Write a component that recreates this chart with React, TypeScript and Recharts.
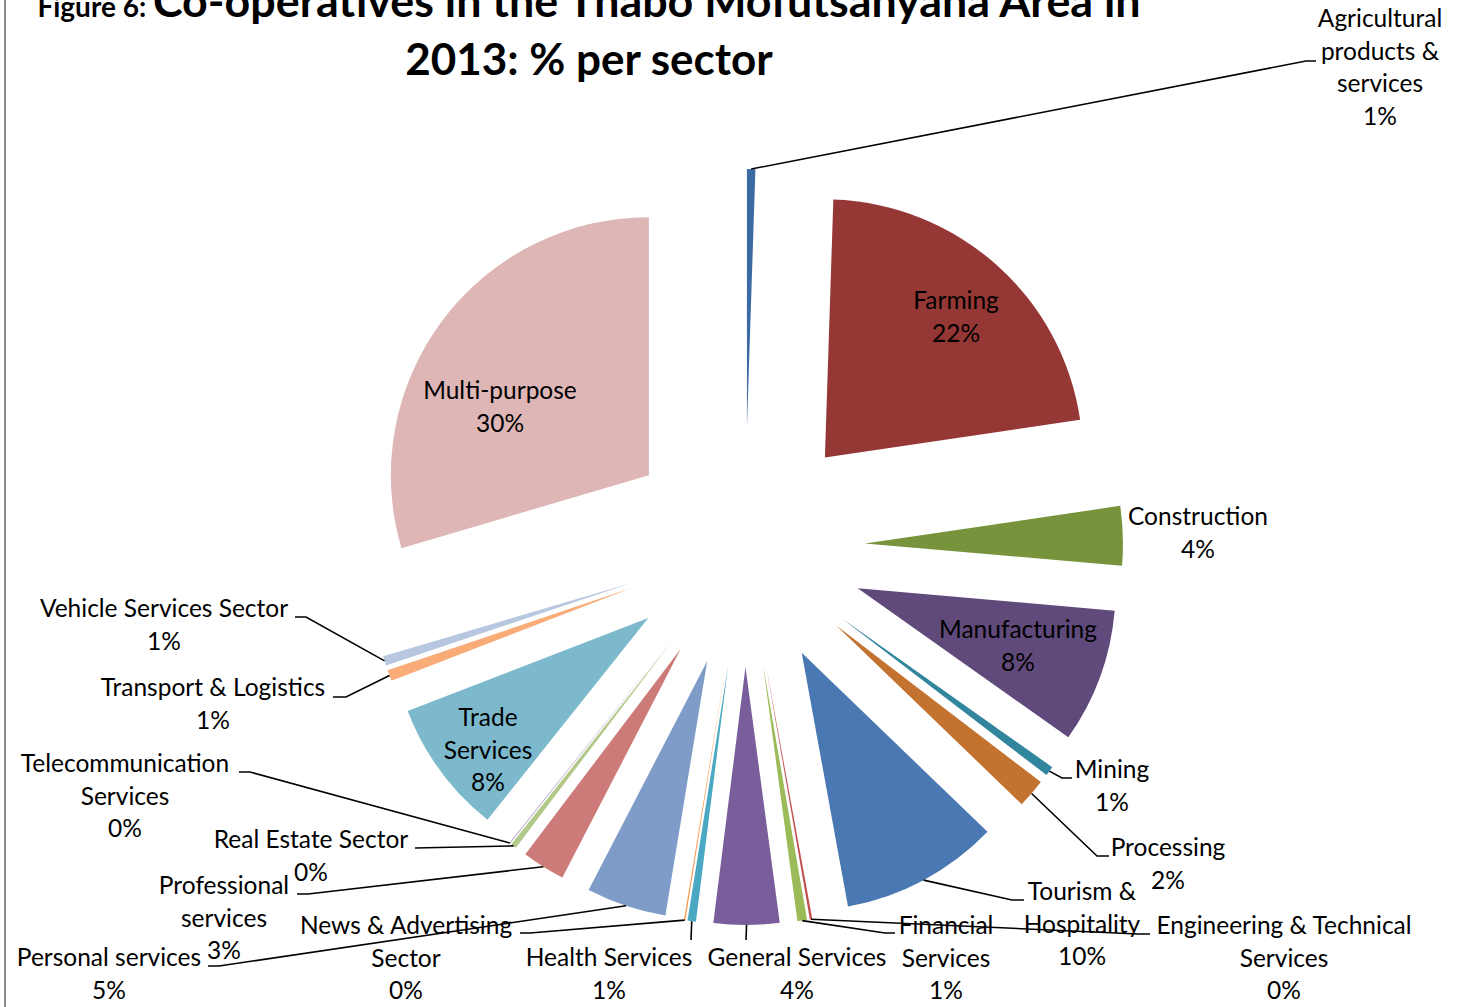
import React from 'react';
import { PieChart, Pie, Cell, Sector, Tooltip } from 'recharts';

// ---- data ----
const categories = [
  'Agricultural\nproducts &\nservices',
  'Farming',
  'Construction',
  'Manufacturing',
  'Mining',
  'Processing',
  'Tourism &\nHospitality',
  'Engineering & Technical\nServices',
  'Financial\nServices',
  'General Services',
  'Health Services',
  'News & Advertising\nSector',
  'Personal services',
  'Professional\nservices',
  'Real Estate Sector',
  'Telecommunication\nServices',
  'Trade\nServices',
  'Transport & Logistics',
  'Vehicle Services Sector',
  'Multi-purpose',
];

const shares = [
  0.52, 22.1, 3.7, 8.4, 0.6, 1.8, 9.9, 0.15, 0.6, 4.1,
  0.52, 0.08, 5.0, 2.7, 0.35, 0.05, 8.4, 0.7, 0.6, 29.5,
];

const colors = [
  '#3B6AA4', '#953735', '#77933C', '#604A7B', '#31859C', '#C3722F', '#4A78B2',
  '#C0504D', '#9BBB59', '#7A5E9B', '#4AA8C2', '#F79646', '#7F9CC9', '#CD7B79',
  '#B2C98A', '#A897C1', '#7CB9CD', '#F9AB78', '#B8C7E0', '#DDB6B5',
];

const titleSmall = 'Figure 6: ';
const titleLine1 = 'Co-operatives in the Thabo Mofutsanyana Area in';
const titleLine2 = '2013: % per sector';

// ---- layout ----
const W = 1459;
const H = 1007;
const CX = 745;
const CY = 547;
const R = 258;
const EXPLODE = 120;
const RAD = Math.PI / 180;
const FONT = 'Lato, "Open Sans", sans-serif';
const LABEL_SIZE = 24.5;
const LINE_H = 32.5;
const LABEL_DY = -2;

type Pt = [number, number];
const labelLayout: { x: number; y: number; leader?: Pt[] }[] = [
  { x: 1380, y: 19, leader: [[1306, 61], [1316, 61]] },
  { x: 956, y: 301 },
  { x: 1198, y: 517 },
  { x: 1018, y: 630 },
  { x: 1112, y: 770, leader: [[1062, 778], [1072, 778]] },
  { x: 1168, y: 848, leader: [[1097, 856], [1109, 856]] },
  { x: 1082, y: 892, leader: [[1012, 900], [1024, 900]] },
  { x: 1284, y: 926, leader: [[1138, 934], [1150, 934]] },
  { x: 946, y: 926, leader: [[885, 933], [895, 933]] },
  { x: 797, y: 958, leader: [[746, 940]] },
  { x: 609, y: 958, leader: [[691, 940]] },
  { x: 406, y: 926, leader: [[530, 933], [520, 933]] },
  { x: 109, y: 958, leader: [[219, 966], [208, 966]] },
  { x: 224, y: 886, leader: [[308, 894], [297, 894]] },
  { x: 311, y: 840, leader: [[415, 848]] },
  { x: 125, y: 764, leader: [[250, 772], [239, 772]] },
  { x: 488, y: 718 },
  { x: 213, y: 688, leader: [[346, 697], [333, 697]] },
  { x: 164, y: 609, leader: [[306, 617], [295, 617]] },
  { x: 500, y: 391 },
];

const data = categories.map((name, i) => ({ name, value: shares[i] }));

function ExplodedSector(props: any) {
  const { cx, cy, midAngle, innerRadius, outerRadius, startAngle, endAngle, fill } = props;
  const dx = EXPLODE * Math.cos(-midAngle * RAD);
  const dy = EXPLODE * Math.sin(-midAngle * RAD);
  return (
    <Sector
      cx={cx + dx}
      cy={cy + dy}
      innerRadius={innerRadius}
      outerRadius={outerRadius}
      startAngle={startAngle}
      endAngle={endAngle}
      fill={fill}
      stroke="none"
    />
  );
}

function renderLabel(props: any) {
  const { cx, cy, midAngle, index, percent } = props;
  const L = labelLayout[index];
  if (!L) return null;
  const lines = categories[index].split('\n').concat(`${Math.round(percent * 100)}%`);
  let leader = null;
  if (L.leader) {
    const d = EXPLODE + R;
    const sx = cx + d * Math.cos(-midAngle * RAD);
    const sy = cy + d * Math.sin(-midAngle * RAD);
    const pts = [[sx, sy] as Pt, ...L.leader].map((p) => p.join(',')).join(' ');
    leader = <polyline points={pts} fill="none" stroke="#000" strokeWidth={1.6} />;
  }
  const y0 = L.y + LABEL_DY;
  return (
    <g key={`lbl-${index}`}>
      {leader}
      <text
        x={L.x}
        y={y0}
        textAnchor="middle"
        dominantBaseline="central"
        fontFamily={FONT}
        fontSize={LABEL_SIZE}
        fill="#000"
      >
        {lines.map((t, j) => (
          <tspan key={j} x={L.x} y={y0 + j * LINE_H} dominantBaseline="central">
            {t}
          </tspan>
        ))}
      </text>
    </g>
  );
}

export default function App() {
  return (
    <div style={{ position: 'absolute', left: 0, top: 0, width: W, height: H, background: '#fff', overflow: 'hidden' }}>
      <div style={{ position: 'absolute', left: 4, top: 0, width: 2, height: H, background: '#8c8c8c' }} />
      <svg width={W} height={110} style={{ position: 'absolute', left: 0, top: 0 }}>
        <text x={589} y={17} textAnchor="middle" fontFamily={FONT} fontWeight="bold" fill="#000">
          <tspan fontSize={28}>{titleSmall}</tspan>
          <tspan fontSize={44.8}>{titleLine1}</tspan>
        </text>
        <text x={589} y={75} textAnchor="middle" fontFamily={FONT} fontWeight="bold" fontSize={44} fill="#000">
          {titleLine2}
        </text>
      </svg>
      <div style={{ position: 'absolute', left: 0, top: 0 }}>
        <PieChart width={W} height={H} margin={{ top: 0, right: 0, bottom: 0, left: 0 }}>
          <Pie
            data={data}
            dataKey="value"
            nameKey="name"
            cx={CX}
            cy={CY}
            innerRadius={0}
            outerRadius={R}
            startAngle={90}
            endAngle={-270}
            stroke="none"
            isAnimationActive={false}
            activeShape={ExplodedSector}
            inactiveShape={ExplodedSector}
            shape={ExplodedSector as any}
            label={renderLabel}
            labelLine={false}
          >
            {data.map((d, i) => (
              <Cell key={d.name} fill={colors[i]} stroke="none" />
            ))}
          </Pie>
          <Tooltip defaultIndex={0} content={() => null} cursor={false} isAnimationActive={false} />
        </PieChart>
      </div>
    </div>
  );
}
